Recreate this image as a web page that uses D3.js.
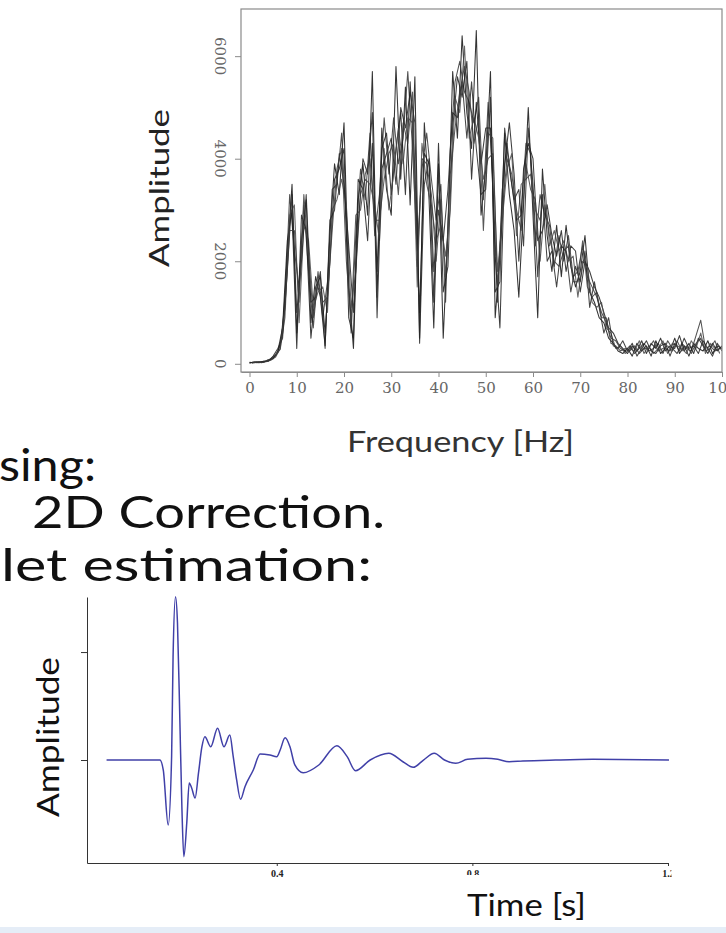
<html>
<head>
<meta charset="utf-8">
<title></title>
<style>
body { margin: 0; background: #fff; }
svg { display: block; }
</style>
</head>
<body>
<script src="https://d3js.org/d3.v7.min.js"></script>
<script>
// --- spectrum: six traces at 1 Hz steps
var freqA = d3.range(0, 101);        // 0 .. 100 Hz
var freqB = d3.range(0.5, 100, 1);   // 0.5 .. 99.5 Hz

var traceA = [20,30,20,40,60,120,220,600,2100,3500,
  600,2400,3200,800,1700,1300,350,2500,3900,3300,
  4700,1500,300,3200,3900,2900,5700,1300,4600,3400,
  2900,5800,3600,5400,3100,5600,500,4700,3200,700,
  3900,500,2600,5700,4400,6400,4900,4200,6500,2900,
  3800,5700,900,2100,4500,3300,2600,1300,3100,5000,
  2900,900,3800,2500,1800,2700,1700,2700,1900,1500,
  1800,2500,1400,1200,900,800,500,400,250,200,
  300,150,400,250,350,150,450,200,300,250,
  500,200,350,150,400,300,250,450,200,350,300];
var traceB = [30,20,40,30,80,100,250,700,2400,3000,
  300,2900,2600,500,1500,1700,600,2000,3600,3800,
  4200,900,500,3600,3400,2400,4300,1800,4200,4500,
  3300,4200,4900,3300,5500,3800,1000,4100,3900,1200,
  4300,1400,1900,4600,5600,5200,5900,3600,5100,3900,
  4600,4600,2100,700,3900,4700,3700,2000,3800,4300,
  4000,2400,2600,3100,2500,2100,2600,1800,2300,2200,
  1400,2000,1800,1500,1300,1000,700,600,400,300,
  200,350,250,450,200,400,300,500,250,350,
  300,550,250,400,200,500,350,200,400,250,350];
var traceC = [10,40,30,50,50,150,300,500,1800,3300,
  1000,2000,3300,1200,1300,1800,300,2800,3000,4100,
  3500,2300,1000,2700,4000,3700,4900,900,3800,4100,
  4400,3500,5000,4600,5300,4700,400,3500,4000,1800,
  3000,2400,3400,4900,4800,5500,4400,5500,4200,3300,
  3400,5200,1400,1600,4600,3800,3200,3400,2300,4600,
  3500,1700,3300,2000,2200,1500,2300,2200,1400,1900,
  1600,2200,1100,1600,1100,600,900,350,300,450,
  250,400,150,300,450,250,200,350,400,150,
  400,250,500,300,350,200,450,300,150,400,250];
var traceD = [20,30,30,50,80,150,350,1200,3300,2200,
  1500,3100,1800,700,1800,900,1600,3400,3500,4500,
  2600,600,2500,3800,3200,4500,2500,3300,4800,3700,
  4800,3900,4400,5700,4200,2200,3800,4500,3600,2800,
  3500,1200,4200,5500,5900,5300,5100,4700,5200,3200,
  5100,3600,1200,3400,4300,3500,2800,2900,4300,4100,
  2300,3300,2900,2700,1900,2500,2000,2500,1700,1800,
  2300,1700,1500,1300,1000,800,500,450,300,250,
  350,200,300,400,250,300,400,200,450,300,
  200,400,300,250,550,850,300,350,250,300];
var traceE = [30,20,40,60,100,180,280,900,2900,3100,
  800,2700,2400,1100,1400,1500,1000,3000,3200,3600,
  3100,1100,1800,3300,3600,3500,3100,2400,4200,3000,
  3700,4600,3900,4800,4700,1500,4300,3500,3100,2400,
  2700,2100,3000,5200,4900,6200,4400,4800,4400,3600,
  4000,4100,1800,2800,3800,4100,2500,3500,3600,3700,
  3000,2800,3500,2300,2600,2200,2400,2000,2100,1300,
  2000,1900,1200,1100,1200,700,600,300,350,200,
  300,250,450,200,350,200,300,450,200,400,
  350,300,200,450,300,600,200,400,300,350];
var traceF = [10,40,20,40,70,130,300,1100,2600,2600,
  1200,3300,2100,900,1600,1200,1300,2600,3800,4200,
  2000,800,2900,3000,3700,4000,2800,2800,3600,4100,
  4300,3300,4700,4300,5300,1900,4000,3900,3300,2000,
  3200,1700,3700,4600,5300,5800,5300,4300,4800,2600,
  4500,4400,1500,3000,4000,3700,3000,2600,3900,3400,
  3200,2000,3100,2500,2000,1900,2200,2300,1600,1600,
  2400,1500,1300,1400,900,900,400,350,250,300,
  250,350,200,300,300,450,250,300,350,250,
  450,250,350,200,400,500,250,300,450,200];

var freqTicks = [0,10,20,30,40,50,60,70,80,90,100];
var ampTicks = [0,2000,4000,6000];

// --- estimated wavelet
var waveTime = [0.052,0.161,0.168,0.178,0.185,0.188,0.193,0.197,0.202,0.206,
  0.210,0.216,0.221,0.226,0.233,0.240,0.247,0.253,0.265,0.279,
  0.292,0.304,0.311,0.318,0.326,0.335,0.352,0.366,0.386,0.400,
  0.407,0.417,0.427,0.437,0.454,0.486,0.523,0.544,0.561,0.591,
  0.629,0.658,0.679,0.700,0.722,0.743,0.766,0.790,0.828,0.852,
  0.875,0.903,0.970,1.046,1.202];
var waveAmp = [0,0,-0.093,-0.602,0.031,0.956,1.512,1.269,0.343,-0.432,
  -0.895,-0.583,-0.213,-0.259,-0.352,-0.120,0.123,0.216,0.123,0.294,
  0.123,0.231,0.031,-0.185,-0.364,-0.247,-0.093,0.056,0.046,0.031,
  0.093,0.206,0.123,-0.046,-0.118,-0.046,0.132,0.031,-0.099,0,
  0.062,-0.016,-0.068,0,0.062,0,-0.031,0.006,0.016,0.006,
  -0.016,-0.009,0,0.006,0];
var timeTicks = [0.4,0.8,1.2];
var waveTicks = [0,1];

var svg = d3.select("body").append("svg")
    .attr("width", 726)
    .attr("height", 933);

svg.append("rect").attr("width", 726).attr("height", 933).attr("fill", "#fff");
svg.append("rect").attr("x", 0).attr("y", 927).attr("width", 726).attr("height", 6).attr("fill", "#e5edf7");

var slideFont = "Lato, 'Open Sans', sans-serif";

// ================= top chart =================
var x = d3.scaleLinear().domain([-1.8, 100]).range([241, 722]);
var y = d3.scaleLinear().domain([-160, 6920]).range([372, 9]);

svg.append("clipPath").attr("id", "box")
  .append("rect").attr("x", 241).attr("y", 9).attr("width", 481).attr("height", 363);

var spec = svg.append("g");

var traces = [
  {f: freqA, v: traceA, c: "#111"},
  {f: freqB, v: traceD, c: "#333"},
  {f: freqA, v: traceB, c: "#1c1c1c"},
  {f: freqB, v: traceE, c: "#4a4a4a"},
  {f: freqA, v: traceC, c: "#262626"},
  {f: freqB, v: traceF, c: "#3c3c3c"}
];

var line = d3.line()
    .x(function(d){ return x(d[0]); })
    .y(function(d){ return y(d[1]); });

spec.append("g").attr("clip-path", "url(#box)")
  .selectAll("path")
  .data(traces)
  .enter()
  .append("path")
    .attr("d", function(t){ return line(t.f.map(function(f, i){ return [f, t.v[i]]; })); })
    .attr("fill", "none")
    .attr("stroke", function(t){ return t.c; })
    .attr("stroke-width", 1.05)
    .attr("stroke-opacity", 0.85)
    .attr("stroke-linejoin", "round");

spec.append("rect")
    .attr("x", 241).attr("y", 9).attr("width", 481).attr("height", 363)
    .attr("fill", "none").attr("stroke", "#8a8a8a").attr("stroke-width", 1.2);

var xAxis = spec.append("g")
    .attr("transform", "translate(0,372)")
    .call(d3.axisBottom(x).tickValues(freqTicks).tickSize(5).tickSizeOuter(0));
xAxis.select(".domain").attr("stroke", "#8a8a8a");
xAxis.selectAll("line").attr("stroke", "#8a8a8a");
xAxis.selectAll("text")
    .attr("y", 10)
    .attr("font-family", "'DejaVu Serif', serif")
    .attr("font-size", 15)
    .attr("fill", "#666");

var yAxis = spec.append("g")
    .attr("transform", "translate(241,0)")
    .call(d3.axisLeft(y).tickValues(ampTicks).tickSize(6).tickSizeOuter(0));
yAxis.select(".domain").remove();
yAxis.selectAll("line").attr("stroke", "#8a8a8a");
yAxis.selectAll("text").remove();

spec.selectAll(".ylab")
  .data(ampTicks)
  .enter()
  .append("text")
    .attr("transform", function(d){ return "translate(220," + y(d) + ") rotate(90)"; })
    .attr("text-anchor", "middle")
    .attr("dy", "0.35em")
    .attr("font-family", "'DejaVu Serif', serif")
    .attr("font-size", 15)
    .attr("fill", "#666")
    .text(function(d){ return d; });

spec.append("text")
    .attr("transform", "translate(160,188) rotate(-90)")
    .attr("text-anchor", "middle")
    .attr("dy", "0.35em")
    .attr("font-family", slideFont)
    .attr("font-size", 27)
    .attr("fill", "#222")
    .attr("textLength", 158)
    .attr("lengthAdjust", "spacingAndGlyphs")
    .text("Amplitude");

spec.append("text")
    .attr("x", 347).attr("y", 452)
    .attr("font-family", slideFont)
    .attr("font-size", 29)
    .attr("fill", "#333")
    .attr("textLength", 227)
    .attr("lengthAdjust", "spacingAndGlyphs")
    .text("Frequency [Hz]");

// ================= slide text =================
var slide = svg.append("g")
    .attr("font-family", slideFont)
    .attr("font-size", 44)
    .attr("fill", "#111");

slide.append("text").attr("x", -1).attr("y", 481)
    .attr("textLength", 97).attr("lengthAdjust", "spacingAndGlyphs").text("sing:");
slide.append("text").attr("x", 32).attr("y", 528)
    .attr("textLength", 353).attr("lengthAdjust", "spacingAndGlyphs").text("2D Correction.");
slide.append("text").attr("x", 1).attr("y", 581)
    .attr("textLength", 371).attr("lengthAdjust", "spacingAndGlyphs").text("let estimation:");

// ================= bottom chart =================
var xw = d3.scaleLinear().domain([0.012, 1.2]).range([87, 668]);
var yw = d3.scaleLinear().domain([-0.954, 1.51]).range([863, 597]);

var bot = svg.append("g");

var wline = d3.line()
    .x(function(d, i){ return xw(waveTime[i]); })
    .y(function(d){ return yw(d); })
    .curve(d3.curveMonotoneX);

bot.append("path")
    .datum(waveAmp)
    .attr("d", wline)
    .attr("fill", "none")
    .attr("stroke", "#4040a8")
    .attr("stroke-width", 1.5);

var wy = bot.append("g")
    .attr("transform", "translate(87,0)")
    .call(d3.axisLeft(yw).tickValues(waveTicks).tickFormat("").tickSize(6).tickSizeOuter(0));
wy.selectAll("line,path").attr("stroke", "#333");

var wx = bot.append("g")
    .attr("transform", "translate(0,863)")
    .call(d3.axisBottom(xw).tickValues(timeTicks).tickSize(3).tickSizeOuter(0)
          .tickFormat(d3.format(".1f")));
wx.selectAll("line,path").attr("stroke", "#333");
wx.selectAll("text")
    .attr("y", 7)
    .attr("font-family", "'Liberation Serif', serif")
    .attr("font-weight", "bold")
    .attr("font-size", 10)
    .attr("fill", "#222");

// the 0.8 and 1.2 labels are partly hidden in the slide (clip in tick coords)
svg.append("clipPath").attr("id", "lab8")
  .append("rect").attr("x", -20).attr("y", 0).attr("width", 40).attr("height", 12);
svg.append("clipPath").attr("id", "lab12")
  .append("rect").attr("x", -20).attr("y", 0).attr("width", 23).attr("height", 30);
wx.selectAll(".tick").filter(function(d){ return d === 0.8; }).select("text").attr("clip-path", "url(#lab8)");
wx.selectAll(".tick").filter(function(d){ return d === 1.2; }).select("text").attr("clip-path", "url(#lab12)");

bot.append("text")
    .attr("transform", "translate(48,737) rotate(-90)")
    .attr("text-anchor", "middle")
    .attr("dy", "0.35em")
    .attr("font-family", slideFont)
    .attr("font-size", 31)
    .attr("fill", "#111")
    .attr("textLength", 160)
    .attr("lengthAdjust", "spacingAndGlyphs")
    .text("Amplitude");

bot.append("text")
    .attr("x", 467).attr("y", 916)
    .attr("font-family", slideFont)
    .attr("font-size", 31)
    .attr("fill", "#111")
    .attr("textLength", 119)
    .attr("lengthAdjust", "spacingAndGlyphs")
    .text("Time [s]");
</script>
</body>
</html>
